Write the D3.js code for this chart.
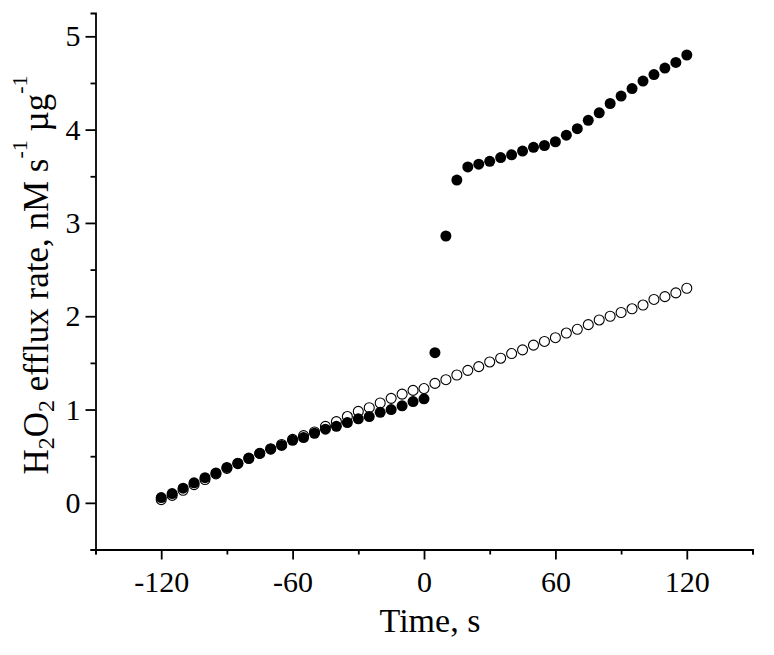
<!DOCTYPE html>
<html>
<head>
<meta charset="utf-8">
<script src="https://cdn.jsdelivr.net/npm/d3@7"></script>
<style>
  body { margin: 0; background: #fff; }
  text { font-family: "Liberation Serif", "Times New Roman", serif; }
</style>
</head>
<body>
<div id="chart"></div>
<script>
var w = 774;
var h = 655;

// time points, s
var times = [-120, -115, -110, -105, -100, -95, -90, -85, -80, -75, -70, -65, -60,
             -55, -50, -45, -40, -35, -30, -25, -20, -15, -10, -5, 0,
             5, 10, 15, 20, 25, 30, 35, 40, 45, 50, 55, 60,
             65, 70, 75, 80, 85, 90, 95, 100, 105, 110, 115, 120];

// filled circles
var filledVals = [0.057, 0.10, 0.157, 0.215, 0.27, 0.32, 0.38, 0.425, 0.48, 0.53, 0.575, 0.615, 0.67,
                  0.70, 0.745, 0.79, 0.82, 0.86, 0.90, 0.925, 0.97, 1.00, 1.04, 1.085, 1.115,
                  1.61, 2.86, 3.46, 3.60, 3.63, 3.66, 3.70, 3.73, 3.77, 3.81, 3.83, 3.87,
                  3.94, 4.01, 4.10, 4.18, 4.28, 4.36, 4.44, 4.52, 4.59, 4.66, 4.72, 4.80];

// open circles
var openVals = [0.035, 0.08, 0.135, 0.195, 0.25, 0.31, 0.37, 0.42, 0.475, 0.53, 0.58, 0.625, 0.68,
                0.72, 0.76, 0.82, 0.87, 0.925, 0.98, 1.02, 1.07, 1.12, 1.165, 1.205, 1.225,
                1.28, 1.32, 1.37, 1.42, 1.46, 1.51, 1.55, 1.60, 1.64, 1.69, 1.73, 1.77,
                1.82, 1.86, 1.91, 1.96, 2.00, 2.04, 2.08, 2.12, 2.18, 2.21, 2.25, 2.30];

var xMajor = [-120, -60, 0, 60, 120];
var xMinor = [-150, -90, -30, 30, 90, 150];
var yMajor = [0, 1, 2, 3, 4, 5];
var yMinor = [-0.5, 0.5, 1.5, 2.5, 3.5, 4.5];

var x = d3.scaleLinear().domain([-150, 150]).range([95.5, 752.5]);
var y = d3.scaleLinear().domain([-0.5, 5.25]).range([549.5, 13]);

var svg = d3.select("#chart").append("svg")
            .attr("width", w)
            .attr("height", h);

// axes
var xAxis = svg.append("g").attr("transform", "translate(0," + y(-0.5) + ")");
xAxis.call(d3.axisBottom(x).tickValues(xMajor).tickSize(10).tickPadding(11)
             .tickFormat(function(d) { return String(d); }));
xAxis.append("g").call(d3.axisBottom(x).tickValues(xMinor).tickSize(5).tickFormat(""));

var yAxis = svg.append("g").attr("transform", "translate(" + x(-150) + ",0)");
yAxis.call(d3.axisLeft(y).tickValues(yMajor).tickSize(10).tickPadding(5)
             .tickFormat(function(d) { return String(d); }));
yAxis.append("g").call(d3.axisLeft(y).tickValues(yMinor).tickSize(5).tickFormat(""));

svg.selectAll(".domain").attr("stroke", "#000").attr("stroke-width", 1.8);
svg.selectAll(".tick line").attr("stroke", "#000").attr("stroke-width", 1.8);
svg.selectAll(".tick text").attr("fill", "#000").style("font-size", "30px")
   .style("font-family", "'Liberation Serif', serif");
// drop the extra domain paths of the minor-tick groups
xAxis.select("g .domain").remove();
yAxis.select("g .domain").remove();

// open circles
svg.selectAll("circle.open")
   .data(times)
   .enter()
   .append("circle")
   .attr("class", "open")
   .attr("cx", function(d) { return x(d); })
   .attr("cy", function(d, i) { return y(openVals[i]); })
   .attr("r", 5)
   .attr("fill", "#fff")
   .attr("stroke", "#000")
   .attr("stroke-width", 1.1);

// filled circles
svg.selectAll("circle.filled")
   .data(times)
   .enter()
   .append("circle")
   .attr("class", "filled")
   .attr("cx", function(d) { return x(d); })
   .attr("cy", function(d, i) { return y(filledVals[i]); })
   .attr("r", 5.5)
   .attr("fill", "#000");

// x title
svg.append("text")
   .attr("x", 430)
   .attr("y", 632)
   .attr("text-anchor", "middle")
   .style("font-size", "34px")
   .text("Time, s");

// y title with sub/superscripts
var yt = svg.append("text")
   .attr("transform", "translate(48,275) rotate(-90)")
   .attr("text-anchor", "middle")
   .style("font-size", "35px");
yt.append("tspan").text("H");
yt.append("tspan").attr("dy", 6).style("font-size", "24px").text("2");
yt.append("tspan").attr("dy", -6).text("O");
yt.append("tspan").attr("dy", 6).style("font-size", "24px").text("2");
yt.append("tspan").attr("dy", -6).text(" efflux rate, nM s");
yt.append("tspan").attr("dy", -21).style("font-size", "22px").text("-1");
yt.append("tspan").attr("dy", 21).text("  \u00b5g");
yt.append("tspan").attr("dy", -21).style("font-size", "22px").text("-1");
</script>
</body>
</html>
